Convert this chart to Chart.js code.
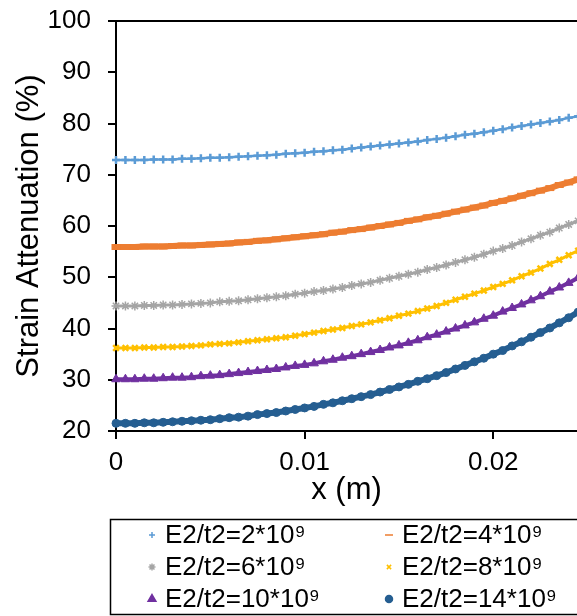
<!DOCTYPE html>
<html>
<head>
<meta charset="utf-8">
<script src="https://cdn.jsdelivr.net/npm/chart.js@4.4.1/dist/chart.umd.min.js"></script>
<style>
  html, body { margin: 0; padding: 0; background: #fff; overflow: hidden; }
  #wrap { width: 577px; height: 616px; }
</style>
</head>
<body>
<div id="wrap"><canvas id="strainChart" width="577" height="616"></canvas></div>
<script>
// x positions along the member (m)
const xPos = [0, 0.0005, 0.001, 0.0015, 0.002, 0.0025, 0.003, 0.0035, 0.004, 0.0045,
  0.005, 0.0055, 0.006, 0.0065, 0.007, 0.0075, 0.008, 0.0085, 0.009, 0.0095,
  0.01, 0.0105, 0.011, 0.0115, 0.012, 0.0125, 0.013, 0.0135, 0.014, 0.0145,
  0.015, 0.0155, 0.016, 0.0165, 0.017, 0.0175, 0.018, 0.0185, 0.019, 0.0195,
  0.02, 0.0205, 0.021, 0.0215, 0.022, 0.0225, 0.023, 0.0235, 0.024, 0.0245];

const seriesNames = ['E2/t2=2*10⁹', 'E2/t2=4*10⁹', 'E2/t2=6*10⁹',
  'E2/t2=8*10⁹', 'E2/t2=10*10⁹', 'E2/t2=14*10⁹'];

// strain attenuation (%)
const att2 = [72.9, 72.9, 72.9, 72.9, 73.0, 73.0, 73.0, 73.1, 73.1, 73.2,
  73.3, 73.3, 73.4, 73.5, 73.6, 73.7, 73.8, 73.9, 74.1, 74.2,
  74.3, 74.5, 74.6, 74.8, 74.9, 75.1, 75.3, 75.5, 75.7, 75.9,
  76.1, 76.3, 76.5, 76.8, 77.0, 77.2, 77.5, 77.8, 78.0, 78.3,
  78.6, 78.9, 79.2, 79.5, 79.8, 80.1, 80.4, 80.7, 81.1, 81.4];
const att4 = [55.9, 55.9, 55.9, 56.0, 56.0, 56.0, 56.1, 56.2, 56.2, 56.3,
  56.4, 56.5, 56.6, 56.8, 56.9, 57.1, 57.2, 57.4, 57.6, 57.8,
  58.0, 58.2, 58.4, 58.7, 58.9, 59.2, 59.4, 59.7, 60.0, 60.3,
  60.6, 61.0, 61.3, 61.7, 62.0, 62.4, 62.8, 63.2, 63.6, 64.0,
  64.5, 64.9, 65.4, 65.9, 66.4, 66.9, 67.4, 68.0, 68.5, 69.1];
const att6 = [44.4, 44.4, 44.4, 44.5, 44.5, 44.6, 44.6, 44.7, 44.8, 44.9,
  45.0, 45.2, 45.3, 45.4, 45.6, 45.8, 46.0, 46.2, 46.4, 46.7,
  46.9, 47.2, 47.4, 47.7, 48.0, 48.4, 48.7, 49.0, 49.4, 49.8,
  50.2, 50.6, 51.0, 51.5, 51.9, 52.4, 52.9, 53.4, 53.9, 54.5,
  55.1, 55.6, 56.2, 56.9, 57.5, 58.2, 58.8, 59.6, 60.3, 61.0];
const att8 = [36.2, 36.2, 36.2, 36.3, 36.3, 36.4, 36.4, 36.5, 36.6, 36.7,
  36.9, 37.0, 37.1, 37.3, 37.5, 37.7, 37.9, 38.1, 38.3, 38.6,
  38.9, 39.2, 39.5, 39.8, 40.1, 40.5, 40.8, 41.2, 41.6, 42.0,
  42.5, 42.9, 43.4, 43.9, 44.4, 45.0, 45.6, 46.2, 46.8, 47.4,
  48.1, 48.7, 49.4, 50.2, 50.9, 51.7, 52.6, 53.4, 54.3, 55.2];
const att10 = [30.1, 30.1, 30.1, 30.2, 30.2, 30.3, 30.4, 30.4, 30.5, 30.7,
  30.8, 30.9, 31.1, 31.3, 31.5, 31.7, 31.9, 32.1, 32.4, 32.7,
  32.9, 33.2, 33.6, 33.9, 34.3, 34.6, 35.0, 35.4, 35.8, 36.3,
  36.7, 37.2, 37.7, 38.3, 38.8, 39.4, 40.0, 40.6, 41.2, 41.9,
  42.5, 43.3, 44.0, 44.7, 45.5, 46.3, 47.2, 48.0, 48.9, 49.9];
const att14 = [21.5, 21.5, 21.5, 21.6, 21.6, 21.7, 21.8, 21.9, 22.0, 22.1,
  22.2, 22.4, 22.6, 22.7, 22.9, 23.2, 23.4, 23.6, 23.9, 24.2,
  24.5, 24.8, 25.2, 25.5, 25.9, 26.3, 26.7, 27.1, 27.6, 28.1,
  28.6, 29.1, 29.7, 30.2, 30.8, 31.4, 32.1, 32.8, 33.5, 34.2,
  35.0, 35.7, 36.6, 37.4, 38.3, 39.2, 40.1, 41.1, 42.1, 43.2];

const xTicks = [0, 0.01, 0.02];
const xTickLabels = ['0', '0.01', '0.02'];
const yTicks = [20, 30, 40, 50, 60, 70, 80, 90, 100];

const fontFamily = '"Liberation Sans", Arial, sans-serif';

function toPoints(values) {
    return values.map((v, i) => ({ x: xPos[i], y: v }));
}

// draw the top border of the plot area
const topBorder = {
    id: 'topBorder',
    afterDraw(chart) {
        const a = chart.chartArea;
        const ctx = chart.ctx;
        ctx.save();
        ctx.strokeStyle = '#000';
        ctx.lineWidth = 2;
        ctx.beginPath();
        ctx.moveTo(a.left - 1, a.top);
        ctx.lineTo(a.right + 12, a.top);
        ctx.stroke();
        ctx.restore();
    }
};

// boxed two-column legend under the axis
const legendBox = {
    id: 'legendBox',
    afterDraw(chart) {
        const ctx = chart.ctx;
        ctx.save();
        ctx.strokeStyle = '#000';
        ctx.lineWidth = 1.5;
        ctx.strokeRect(110.5, 519.5, 490, 95);
        ctx.font = '26px ' + fontFamily;
        ctx.textBaseline = 'middle';
        ctx.textAlign = 'left';
        chart.data.datasets.forEach((ds, i) => {
            const col = i % 2;
            const row = Math.floor(i / 2);
            const mx = 152 + col * 237;
            const my = 535 + row * 32;
            ctx.fillStyle = ds.pointBackgroundColor;
            ctx.strokeStyle = ds.pointBorderColor;
            Chart.helpers.drawPoint(ctx, {
                pointStyle: ds.pointStyle,
                radius: ds.legendRadius,
                borderWidth: Math.min(ds.pointBorderWidth, 2),
                rotation: 0
            }, mx, my);
            ctx.fillStyle = '#000';
            ctx.fillText(ds.label, mx + 13, my + 1);
        });
        ctx.restore();
    }
};

function makeSet(label, values, color, style, radius, pointBorder, lineWidth, legendRadius) {
    return {
        label: label,
        data: toPoints(values),
        borderColor: color,
        backgroundColor: color,
        pointBackgroundColor: color,
        pointBorderColor: color,
        pointStyle: style,
        pointRadius: radius,
        pointBorderWidth: pointBorder,
        borderWidth: lineWidth,
        showLine: true,
        tension: 0,
        clip: false,
        legendRadius: legendRadius
    };
}

document.addEventListener('DOMContentLoaded', function () {
    const ctx = document.getElementById('strainChart').getContext('2d');

    const strainChart = new Chart(ctx, {
        type: 'scatter',
        data: {
            datasets: [
                makeSet(seriesNames[0], att2, '#5B9BD5', 'cross', 4, 2.5, 2.5, 3),
                makeSet(seriesNames[1], att4, '#ED7D31', 'line', 4.5, 6, 6, 4),
                makeSet(seriesNames[2], att6, '#A5A5A5', 'star', 4.5, 1.5, 3, 3.5),
                makeSet(seriesNames[3], att8, '#FFC000', 'crossRot', 4, 2.5, 3, 3),
                makeSet(seriesNames[4], att10, '#7030A0', 'triangle', 5, 1, 4, 4.5),
                makeSet(seriesNames[5], att14, '#255E91', 'circle', 4, 1, 6, 3.5)
            ]
        },
        options: {
            responsive: false,
            animation: false,
            devicePixelRatio: 1,
            layout: {
                autoPadding: false,
                padding: { top: 21, right: 0, bottom: 100, left: 0 }
            },
            plugins: {
                legend: { display: false },
                tooltip: { enabled: false }
            },
            scales: {
                x: {
                    type: 'linear',
                    min: 0,
                    max: 0.02444,
                    afterBuildTicks: scale => {
                        scale.ticks = xTicks.map(v => ({ value: v }));
                    },
                    afterFit: scale => {
                        scale.height = 85;
                        scale.paddingLeft = 0;
                        scale.paddingRight = 0;
                    },
                    ticks: {
                        color: '#000',
                        font: { size: 26, family: fontFamily },
                        padding: 8,
                        maxRotation: 0,
                        callback: (v, i) => xTickLabels[i]
                    },
                    grid: {
                        drawOnChartArea: false,
                        color: '#000',
                        lineWidth: 2,
                        tickLength: 8
                    },
                    border: { color: '#000', width: 2 },
                    title: {
                        display: true,
                        text: 'x (m)',
                        color: '#000',
                        font: { size: 31, family: fontFamily },
                        padding: { top: 0, bottom: 7 }
                    }
                },
                y: {
                    min: 20,
                    max: 100,
                    afterBuildTicks: scale => {
                        scale.ticks = yTicks.map(v => ({ value: v }));
                    },
                    afterFit: scale => {
                        scale.width = 116;
                        scale.paddingTop = 0;
                        scale.paddingBottom = 0;
                    },
                    ticks: {
                        color: '#000',
                        font: { size: 26, family: fontFamily },
                        padding: 17
                    },
                    grid: {
                        drawOnChartArea: false,
                        color: '#000',
                        lineWidth: 2,
                        tickLength: 8
                    },
                    border: { color: '#000', width: 2 },
                    title: {
                        display: true,
                        text: 'Strain Attenuation (%)',
                        color: '#000',
                        font: { size: 31, family: fontFamily },
                        padding: { top: 11, bottom: 0 }
                    }
                }
            }
        },
        plugins: [topBorder, legendBox]
    });
});
</script>
</body>
</html>
